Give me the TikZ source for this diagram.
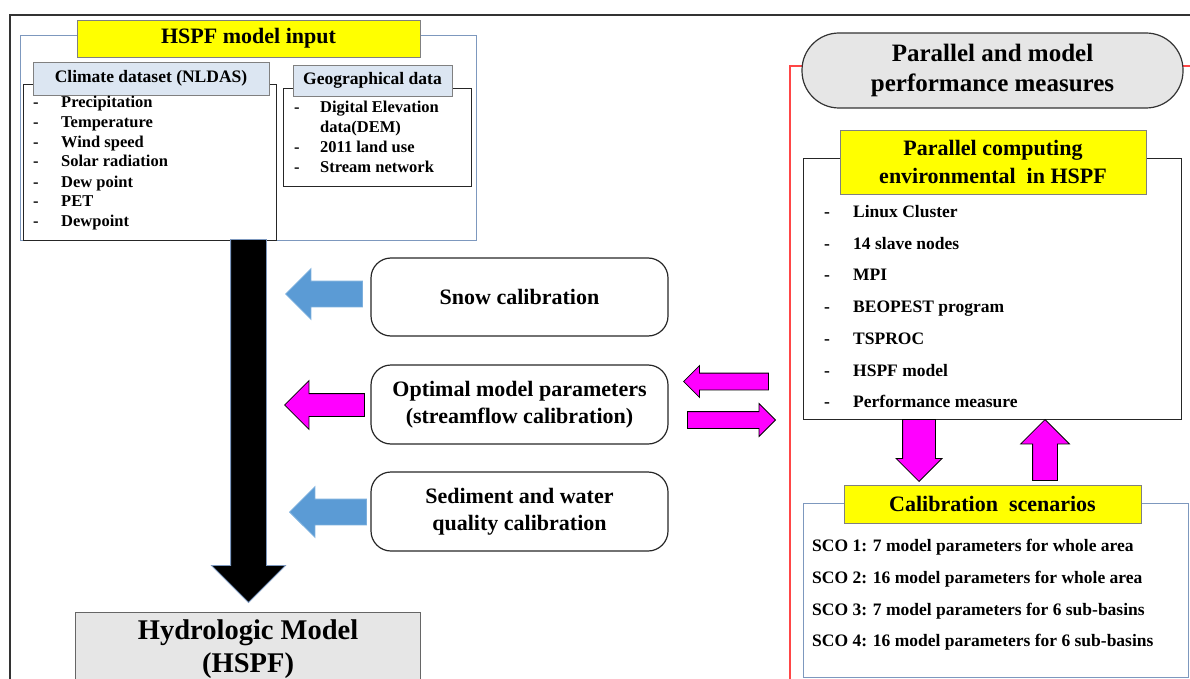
\documentclass[tikz,border=0pt]{standalone}
\usepackage{fontspec}
\setmainfont{Liberation Serif}
\usetikzlibrary{shapes.arrows}
\definecolor{headyellow}{RGB}{255,255,0}
\definecolor{paleblue}{RGB}{220,230,242}
\definecolor{boxblue}{RGB}{125,152,190}
\definecolor{arrowblue}{RGB}{91,155,213}
\definecolor{arrowpink}{RGB}{255,0,255}
\definecolor{hydrogray}{RGB}{230,230,230}
\definecolor{redframe}{RGB}{255,70,70}
\newcommand{\listdash}[1][26pt]{\makebox[#1][l]{-}}

\begin{document}
\begin{tikzpicture}[x=1pt, y=-1pt,
	frameline/.style={draw=black!80, line width=2pt},
	bluebox/.style={draw=boxblue, line width=1.3pt, fill=white, anchor=north west},
	blackbox/.style={draw=black!85, line width=1.3pt, fill=white, anchor=north west},
	headbox/.style={draw=gray, line width=0.8pt, fill=headyellow, align=center, inner sep=0pt, font=\fontsize{22}{28}\selectfont\bfseries},
	subhead/.style={draw=gray, line width=0.8pt, fill=paleblue, inner sep=0pt, font=\fontsize{17.5}{20}\selectfont\bfseries},
	item/.style={anchor=base west, inner sep=0pt, font=\fontsize{16.5}{19}\selectfont\bfseries},
	bigitem/.style={item, font=\fontsize{17.5}{20}\selectfont\bfseries},
	calibbox/.style={draw=black!85, line width=1.2pt, rounded corners=20pt, minimum width=297pt, align=center, font=\fontsize{22}{27}\selectfont\bfseries},
	blockarrow/.style={single arrow, draw, line width=0.8pt, inner xsep=0pt, anchor=tip, single arrow head indent=0pt, single arrow tip angle=90},
	bluearrow/.style={blockarrow, fill=arrowblue, draw=arrowblue!80!white},
	pinkarrow/.style={blockarrow, fill=arrowpink, draw=black}]
	\useasboundingbox (0,0) rectangle (1190,679);
	\clip (0,0) rectangle (1190,679);
	% frames
	\draw[frameline] (10,700) -- (10,15) -- (1200,15);
	\draw[redframe, line width=1.2pt] (790,700) -- (790,66) -- (1200,66);

	% HSPF model input
	\node (inputbox) [bluebox, minimum width=456pt, minimum height=205pt] at (20,35) {};
	\node (inputtitle) [headbox, minimum width=343pt, minimum height=37pt] at (248.5,38.5) {HSPF model input};
	\node (climbox) [blackbox, minimum width=253pt, minimum height=156pt] at (23,84) {};
	\node (climtitle) [subhead, minimum width=236pt, minimum height=33pt] at (151,78.5) {Climate dataset (NLDAS)};
	\node (clim1) [item] at (33,108) {\listdash[28pt]Precipitation};
	\node (clim2) [item] at (33,128) {\listdash[28pt]Temperature};
	\node (clim3) [item] at (33,148) {\listdash[28pt]Wind speed};
	\node (clim4) [item] at (33,167) {\listdash[28pt]Solar radiation};
	\node (clim5) [item] at (33,187) {\listdash[28pt]Dew point};
	\node (clim6) [item] at (33,206) {\listdash[28pt]PET};
	\node (clim7) [item] at (33,226) {\listdash[28pt]Dewpoint};
	\node (geobox) [blackbox, minimum width=188pt, minimum height=98pt] at (283,88) {};
	\node (geotitle) [subhead, minimum width=159pt, minimum height=31pt] at (372.5,80.5) {Geographical data};
	\node (geo1) [item] at (294,113) {\listdash[26pt]Digital Elevation};
	\node (geo2) [item] at (320,133) {data(DEM)};
	\node (geo3) [item] at (294,153) {\listdash[26pt]2011 land use};
	\node (geo4) [item] at (294,172) {\listdash[26pt]Stream network};

	% model and calibration steps
	\node (mainarrow) [blockarrow, fill=black, draw=boxblue, rotate=-90, minimum height=363pt, inner ysep=17.5pt, single arrow head extend=19pt] at (248.5,603) {};
	\node (hspf) [draw=gray!80!black, line width=1.2pt, fill=hydrogray, anchor=north west, minimum width=345pt, minimum height=74pt, align=center, font=\fontsize{28.5}{33}\selectfont\bfseries] at (75,612) {Hydrologic Model\\(HSPF)};
	\node (snow) [calibbox, minimum height=78pt] at (519.5,297) {Snow calibration};
	\node (optimal) [calibbox, minimum height=79pt] at (519.5,404.5) {Optimal model parameters\\(streamflow calibration)};
	\node (sediment) [calibbox, minimum height=79pt] at (519.5,511.5) {Sediment and water\\quality calibration};
	\node (snowarrow) [bluearrow, rotate=180, minimum height=77pt, inner ysep=12.5pt, single arrow head extend=12.5pt] at (285,294) {};
	\node (optarrow) [pinkarrow, rotate=180, minimum height=80pt, inner ysep=11pt, single arrow head extend=13pt] at (284,405) {};
	\node (sedarrow) [bluearrow, rotate=180, minimum height=77pt, inner ysep=12.5pt, single arrow head extend=12.5pt] at (289,512) {};
	\node (backarrow) [pinkarrow, rotate=180, minimum height=85pt, inner ysep=8pt, single arrow head extend=7.5pt] at (683,381.5) {};
	\node (sendarrow) [pinkarrow, minimum height=88pt, inner ysep=8pt, single arrow head extend=8pt] at (776,420) {};

	% parallel and performance
	\node (perf) [draw=black!80, line width=1.2pt, fill=hydrogray, rounded corners=37pt, minimum width=381pt, minimum height=75pt, align=center, font=\fontsize{25}{30}\selectfont\bfseries] at (992.5,70.5) {Parallel and model\\performance measures};
	\node (parbox) [blackbox, minimum width=378pt, minimum height=261pt] at (803,158) {};
	\node (partitle) [headbox, minimum width=306pt, minimum height=64pt] at (993,162) {Parallel computing\\environmental\ \ in HSPF};
	\node (par1) [bigitem] at (824,217) {\listdash[29pt]Linux Cluster};
	\node (par2) [bigitem] at (824,249) {\listdash[29pt]14 slave nodes};
	\node (par3) [bigitem] at (824,280) {\listdash[29pt]MPI};
	\node (par4) [bigitem] at (824,312) {\listdash[29pt]BEOPEST program};
	\node (par5) [bigitem] at (824,344) {\listdash[29pt]TSPROC};
	\node (par6) [bigitem] at (824,376) {\listdash[29pt]HSPF model};
	\node (par7) [bigitem] at (824,407) {\listdash[29pt]Performance measure};
	\node (downarrow) [pinkarrow, rotate=-90, minimum height=62pt, inner ysep=16pt, single arrow head extend=6.5pt] at (919,482) {};
	\node (uparrow) [pinkarrow, rotate=90, minimum height=61pt, inner ysep=12pt, single arrow head extend=12pt] at (1045,419) {};
	\node (scobox) [bluebox, minimum width=385pt, minimum height=174pt] at (803,503) {};
	\node (scotitle) [headbox, minimum width=297pt, minimum height=38pt] at (992.5,504) {Calibration\ \ scenarios};
	\node (sco1) [bigitem] at (812,551) {SCO 1: 7 model parameters for whole area};
	\node (sco2) [bigitem] at (812,583) {SCO 2: 16 model parameters for whole area};
	\node (sco3) [bigitem] at (812,615) {SCO 3: 7 model parameters for 6 sub-basins};
	\node (sco4) [bigitem] at (812,646) {SCO 4: 16 model parameters for 6 sub-basins};
\end{tikzpicture}
\end{document}
